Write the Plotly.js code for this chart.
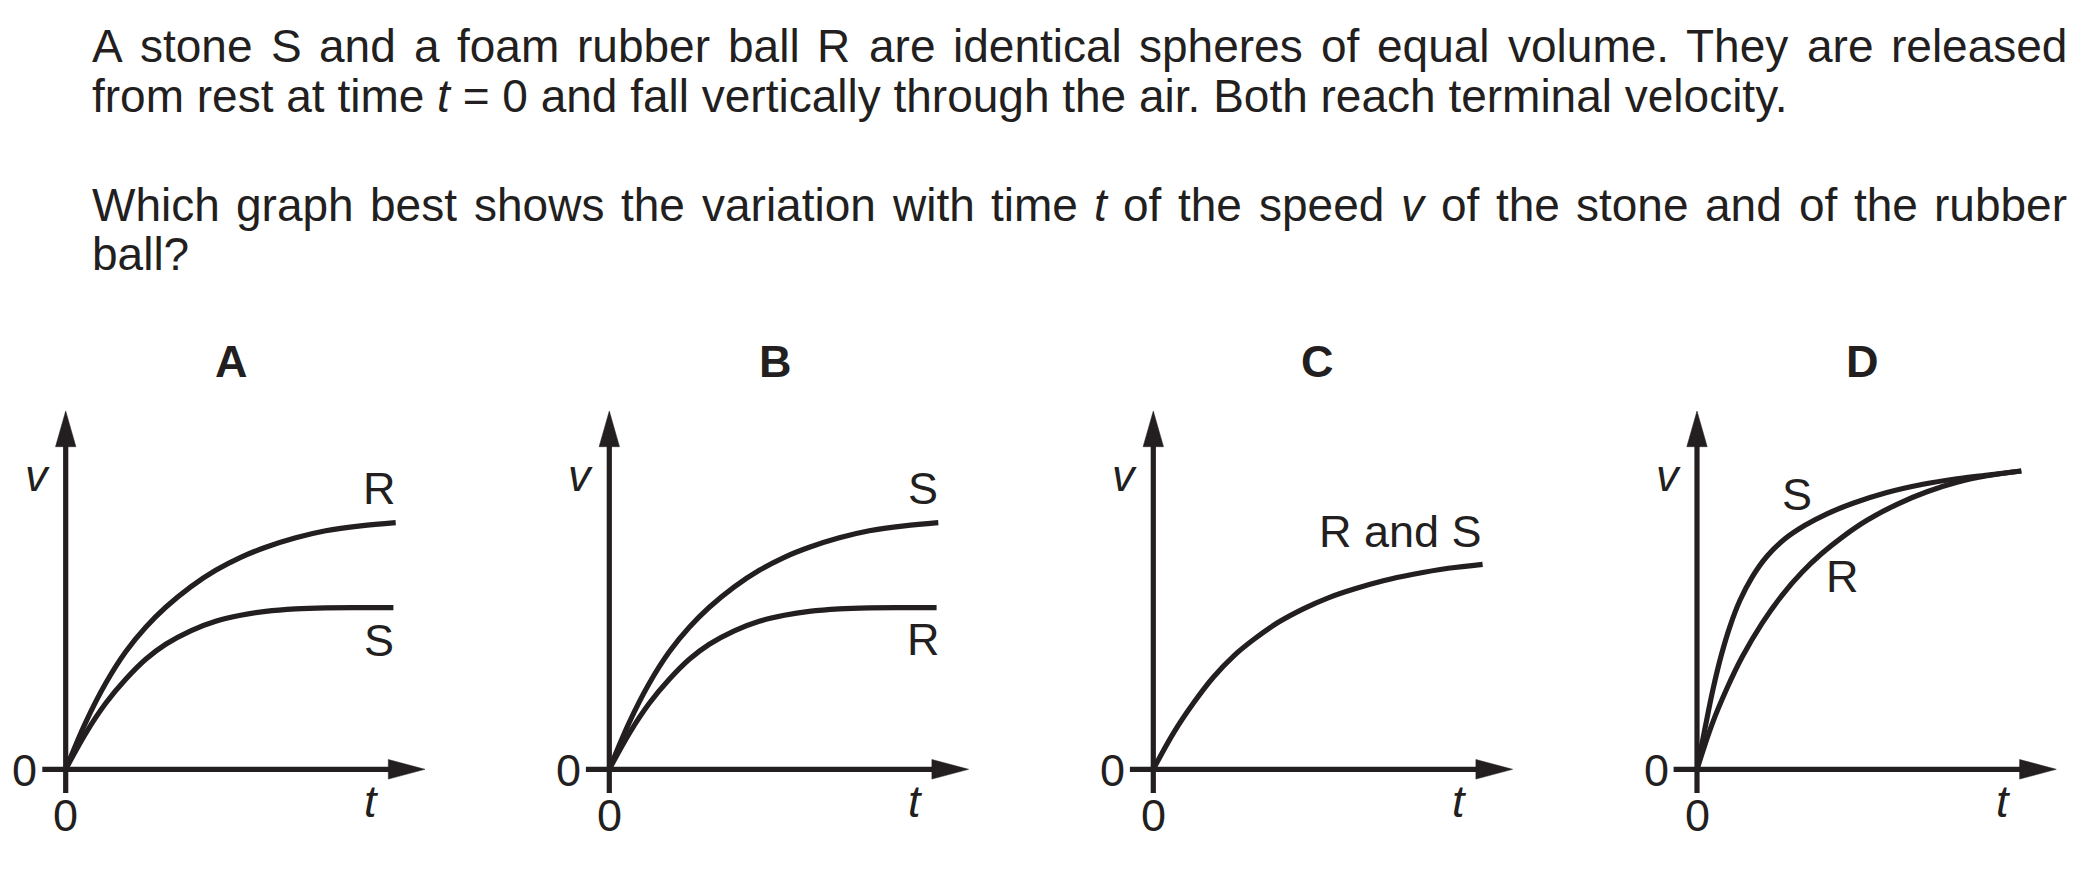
<!DOCTYPE html>
<html>
<head>
<meta charset="utf-8">
<script src="https://cdn.plot.ly/plotly-3.0.1.min.js"></script>
<style>
  html, body { margin: 0; padding: 0; background: #ffffff; }
  #chart { width: 2100px; height: 876px; }
</style>
</head>
<body>
<div id="chart"></div>
<script>
// ---------------- DATA (t and v in arbitrary units) ----------------
const optionLetters = ['A', 'B', 'C', 'D'];

// Graph A
const tA_R = [0, 2, 4, 6, 8, 10, 12.5, 15, 17.5, 20, 23, 26, 29.5, 33.0];
const vA_R = [0, 4.7, 8.6, 11.75, 14.2, 16.2, 18.25, 19.9, 21.2, 22.2, 23.15, 23.85, 24.35, 24.67];
const tA_S = [0, 2, 4, 6, 8, 10, 12.5, 15, 17.5, 20, 23, 26, 29.5, 32.77];
const vA_S = [0, 3.6, 6.6, 9.0, 11.0, 12.5, 13.85, 14.8, 15.4, 15.8, 16.05, 16.15, 16.17, 16.17];

// Graph B
const tB_S = [0, 2, 4, 6, 8, 10, 12.5, 15, 17.5, 20, 23, 26, 29.5, 32.9];
const vB_S = [0, 4.7, 8.6, 11.75, 14.2, 16.2, 18.25, 19.9, 21.2, 22.2, 23.15, 23.85, 24.35, 24.67];
const tB_R = [0, 2, 4, 6, 8, 10, 12.5, 15, 17.5, 20, 23, 26, 29.5, 32.73];
const vB_R = [0, 3.6, 6.6, 9.0, 11.0, 12.5, 13.85, 14.8, 15.4, 15.8, 16.05, 16.15, 16.17, 16.17];

// Graph C
const tC_RS = [0, 2, 4, 6, 8, 10, 12.5, 15, 17.5, 20, 23, 26, 29.5, 32.93];
const vC_RS = [0, 3.6, 6.6, 9.2, 11.3, 12.95, 14.7, 16.05, 17.15, 18.0, 18.85, 19.5, 20.1, 20.5];

// Graph D
const tD_S = [0, 0.8, 1.6, 2.4, 3.3, 4.3, 5.5, 7.0, 8.8, 10.8, 13.0, 15.6, 18.9, 22.6, 26.0, 29.3, 32.43];
const vD_S = [0, 4.1, 8.0, 11.3, 14.3, 16.9, 19.2, 21.3, 23.05, 24.4, 25.55, 26.6, 27.65, 28.5, 29.05, 29.45, 29.83];
const tD_R = [0, 1.5, 3, 4.5, 6.5, 8.5, 10.5, 12.5, 14.5, 17, 20, 23, 26, 29, 32.43];
const vD_R = [0, 4.5, 8.1, 11.2, 14.6, 17.4, 19.7, 21.6, 23.2, 24.9, 26.5, 27.75, 28.7, 29.35, 29.83];

// Text
const paragraphLines = [
  'A stone S and a foam rubber ball R are identical spheres of equal volume. They are released',
  'from rest at time <i>t</i> = 0 and fall vertically through the air. Both reach terminal velocity.',
  'Which graph best shows the variation with time <i>t</i> of the speed <i>v</i> of the stone and of the rubber',
  'ball?'
];
const panelCurves = [
  [[tA_R, vA_R], [tA_S, vA_S]],
  [[tB_S, vB_S], [tB_R, vB_R]],
  [[tC_RS, vC_RS]],
  [[tD_S, vD_S], [tD_R, vD_R]]
];
const panelCurveLabels = [['R', 'S'], ['S', 'R'], ['R and S'], ['S', 'R']];

// ---------------- LAYOUT / STYLE ----------------
const W = 2100, H = 876;
const FONT = '"Liberation Sans", Arial, Helvetica, sans-serif';
const FS = 45;        // labels inside the graphs
const FS_PARA = 46;   // question text
const INK = '#231f20';
const px = x => x / W;
const py = y => 1 - y / H;

const ORIGIN_X = [65.7, 609.3, 1153.3, 1697.0];
const ORIGIN_Y = 769.3;
const X_LEN = 359.3, Y_LEN = 358.3, UNIT = 10;
const LEFT_EXT = 23.4, DOWN_EXT = 23.7;
const XHEAD_LEN = 36.7, XHEAD_HALF = 9.8;
const YHEAD_LEN = 35.7, YHEAD_HALF = 10.2;

const letterPos = [[231.7, 362], [775.0, 362], [1317.2, 362], [1862.5, 362]];
const curveLabelPos = [
  [[379.3, 488.8], [379.3, 640.0]],
  [[923.3, 488.7], [923.3, 639.8]],
  [[1400.0, 531.0]],
  [[1797.2, 494.5], [1842.5, 576.3]]
];
const PARA_X0 = 91.7, PARA_X1 = 2067.3;
const paraCapCenters = [46.2, 95.6, 204.6, 253.9];
const paraJustify = [true, false, true, false];

const traces = [];
const layout = {
  width: W, height: H,
  margin: {l: 0, r: 0, t: 0, b: 0, pad: 0},
  paper_bgcolor: '#ffffff',
  plot_bgcolor: 'rgba(0,0,0,0)',
  showlegend: false,
  font: {family: FONT, size: FS, color: INK},
  shapes: [],
  annotations: []
};

function ann(text, x, y, opts, size) {
  return Object.assign({
    text: text, x: px(x), y: py(y), xref: 'paper', yref: 'paper',
    showarrow: false, xanchor: 'center', yanchor: 'middle',
    borderpad: 0, borderwidth: 0,
    font: {family: FONT, size: size || FS, color: INK}
  }, opts || {});
}

panelCurves.forEach((curves, i) => {
  const n = i + 1;
  const sfx = n === 1 ? '' : String(n);
  const ox = ORIGIN_X[i], oy = ORIGIN_Y;
  layout['xaxis' + sfx] = {
    domain: [px(ox), px(ox + X_LEN)], range: [0, X_LEN / UNIT],
    visible: false, fixedrange: true, anchor: 'y' + sfx
  };
  layout['yaxis' + sfx] = {
    domain: [py(oy), py(oy - Y_LEN)], range: [0, Y_LEN / UNIT],
    visible: false, fixedrange: true, anchor: 'x' + sfx
  };
  curves.forEach(([t, v]) => {
    traces.push({
      type: 'scatter', mode: 'lines', x: t, y: v,
      xaxis: 'x' + sfx, yaxis: 'y' + sfx,
      line: {color: INK, width: 5.2, shape: 'spline', smoothing: 1},
      hoverinfo: 'skip'
    });
  });

  // axes with arrowheads
  layout.shapes.push({type: 'line', xref: 'paper', yref: 'paper',
    x0: px(ox), x1: px(ox), y0: py(oy + DOWN_EXT), y1: py(oy - Y_LEN + YHEAD_LEN - 2),
    line: {color: INK, width: 5.2}});
  layout.shapes.push({type: 'line', xref: 'paper', yref: 'paper',
    x0: px(ox - LEFT_EXT), x1: px(ox + X_LEN - XHEAD_LEN + 2), y0: py(oy), y1: py(oy),
    line: {color: INK, width: 5.2}});
  const yTipY = oy - Y_LEN, yBaseY = oy - Y_LEN + YHEAD_LEN;
  layout.shapes.push({type: 'path', xref: 'paper', yref: 'paper',
    path: `M ${px(ox)} ${py(yTipY)} L ${px(ox - YHEAD_HALF)} ${py(yBaseY)} L ${px(ox + YHEAD_HALF)} ${py(yBaseY)} Z`,
    fillcolor: INK, line: {color: INK, width: 0.5}});
  const xTipX = ox + X_LEN, xBaseX = ox + X_LEN - XHEAD_LEN;
  layout.shapes.push({type: 'path', xref: 'paper', yref: 'paper',
    path: `M ${px(xTipX)} ${py(oy)} L ${px(xBaseX)} ${py(oy - XHEAD_HALF)} L ${px(xBaseX)} ${py(oy + XHEAD_HALF)} Z`,
    fillcolor: INK, line: {color: INK, width: 0.5}});

  // axis texts
  layout.annotations.push(ann('0', ox - 40.8, 770));
  layout.annotations.push(ann('0', ox, 815));
  layout.annotations.push(ann('<i>v</i>', ox - 28.6, 475));
  layout.annotations.push(ann('<i>t</i>', ox + 306, 801.6));
  // panel letter
  layout.annotations.push(ann('<b>' + optionLetters[i] + '</b>', letterPos[i][0], letterPos[i][1]));
  // curve labels
  panelCurveLabels[i].forEach((lab, k) => {
    layout.annotations.push(ann(lab, curveLabelPos[i][k][0], curveLabelPos[i][k][1]));
  });
});

// paragraph text (justified lines are laid out word by word)
const ctx = document.createElement('canvas').getContext('2d');
function measureWord(w) {
  const italic = /^<i>.*<\/i>$/.test(w);
  const plain = w.replace(/<\/?i>/g, '');
  ctx.font = (italic ? 'italic ' : '') + FS_PARA + 'px ' + FONT;
  return ctx.measureText(plain).width;
}
paragraphLines.forEach((line, li) => {
  const y = paraCapCenters[li];
  if (!paraJustify[li]) {
    layout.annotations.push(ann(line, PARA_X0, y, {xanchor: 'left'}, FS_PARA));
    return;
  }
  const words = line.split(' ');
  const widths = words.map(measureWord);
  const total = widths.reduce((a, b) => a + b, 0);
  const gap = (PARA_X1 - PARA_X0 - total) / (words.length - 1);
  let x = PARA_X0;
  words.forEach((w, k) => {
    layout.annotations.push(ann(w, x, y, {xanchor: 'left'}, FS_PARA));
    x += widths[k] + gap;
  });
});

Plotly.newPlot('chart', traces, layout, {staticPlot: true, displayModeBar: false});
</script>
</body>
</html>
